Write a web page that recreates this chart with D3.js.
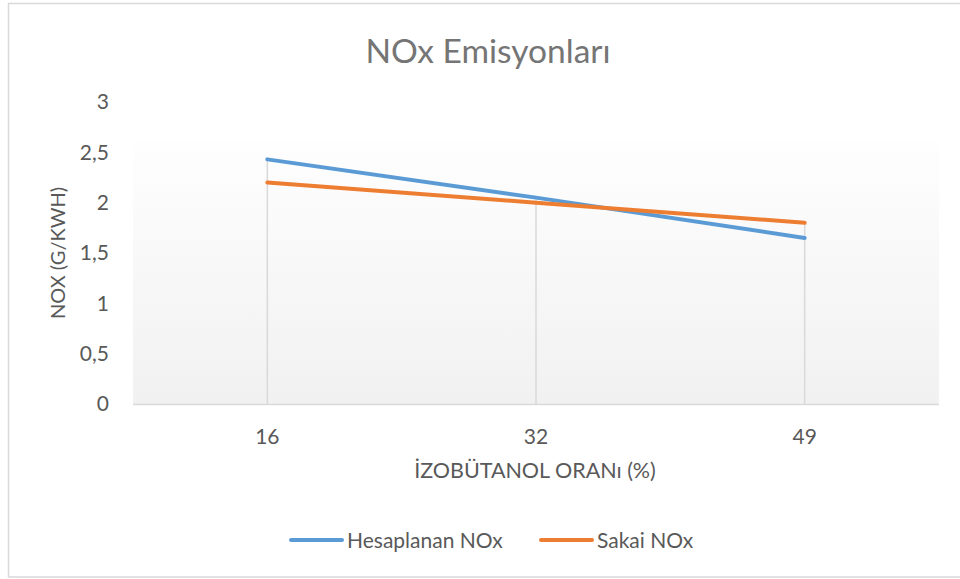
<!DOCTYPE html>
<html>
<head>
<meta charset="utf-8">
<script src="https://cdn.jsdelivr.net/npm/d3@7"></script>
<style>
  html, body { margin: 0; padding: 0; background: #fff; }
  svg { display: block; font-family: Lato, "Open Sans", sans-serif; }
</style>
</head>
<body>
<svg id="chart" width="960" height="579"></svg>
<script>
// Data
const categories = ["16", "32", "49"];
const hesaplanan = [2.43, 2.05, 1.65];
const sakai = [2.2, 2.0, 1.8];
const yTicks = [0, 0.5, 1, 1.5, 2, 2.5, 3];
const seriesNames = ["Hesaplanan NOx", "Sakai NOx"];
const seriesColors = ["#5B9BD5", "#ED7D31"];

const series = [
  { name: seriesNames[0], values: hesaplanan, color: seriesColors[0] },
  { name: seriesNames[1], values: sakai, color: seriesColors[1] }
];

const svg = d3.select("#chart");
const W = 960, H = 579;
const plot = { left: 133, right: 939, top: 102, bottom: 404 };

// Outer chart border
svg.append("rect")
  .attr("x", 8.5).attr("y", 3.5)
  .attr("width", W + 10).attr("height", H - 4 - 1.5)
  .attr("fill", "#fff").attr("stroke", "#d9d9d9").attr("stroke-width", 1.5);

const x = d3.scaleBand().domain(categories).range([plot.left, plot.right]);
const y = d3.scaleLinear().domain([0, 3]).range([plot.bottom, plot.top]);

// Plot area gradient fill
const defs = svg.append("defs");
const grad = defs.append("linearGradient")
  .attr("id", "plotGrad").attr("x1", 0).attr("y1", 0).attr("x2", 0).attr("y2", 1);
grad.append("stop").attr("offset", "0%").attr("stop-color", "#fefefe");
grad.append("stop").attr("offset", "100%").attr("stop-color", "#f1f1f1");

const gradTop = 141;
svg.append("rect")
  .attr("x", plot.left).attr("y", gradTop)
  .attr("width", plot.right - plot.left).attr("height", plot.bottom - gradTop)
  .attr("fill", "url(#plotGrad)");

// Title
svg.append("text")
  .attr("x", 488).attr("y", 63)
  .attr("text-anchor", "middle")
  .attr("font-size", 33.5)
  .attr("fill", "#757575")
  .text("NOx Emisyonları");

// Y axis (labels only)
const yAxis = d3.axisLeft(y).tickValues(yTicks)
  .tickFormat(d => String(d).replace(".", ","))
  .tickSize(0).tickPadding(0);
const gy = svg.append("g").attr("transform", `translate(109,0)`).call(yAxis);
gy.select(".domain").remove();
gy.selectAll("text")
  .attr("font-size", 21).attr("fill", "#595959")
  .attr("font-family", "Lato, sans-serif");

// Drop lines
svg.append("g").selectAll("line")
  .data(categories)
  .join("line")
  .attr("x1", d => x(d) + x.bandwidth() / 2)
  .attr("x2", d => x(d) + x.bandwidth() / 2)
  .attr("y1", (d, i) => y(Math.max(hesaplanan[i], sakai[i])))
  .attr("y2", plot.bottom)
  .attr("stroke", "#d9d9d9").attr("stroke-width", 1.5);

// X axis line and labels
svg.append("line")
  .attr("x1", plot.left).attr("x2", plot.right)
  .attr("y1", plot.bottom + 0.5).attr("y2", plot.bottom + 0.5)
  .attr("stroke", "#d9d9d9").attr("stroke-width", 1.5);

const xAxis = d3.axisBottom(x).tickSize(0).tickPadding(0);
const gx = svg.append("g").attr("transform", `translate(0,${plot.bottom + 25})`).call(xAxis);
gx.select(".domain").remove();
gx.selectAll("text")
  .attr("font-size", 21).attr("fill", "#595959")
  .attr("font-family", "Lato, sans-serif");

// Axis titles
svg.append("text")
  .attr("x", 535).attr("y", 478)
  .attr("text-anchor", "middle")
  .attr("font-size", 21.5).attr("fill", "#595959")
  .text("İZOBÜTANOL ORANı (%)");

svg.append("text")
  .attr("transform", "translate(65,253) rotate(-90)")
  .attr("text-anchor", "middle")
  .attr("font-size", 20).attr("fill", "#595959")
  .text("NOX (G/KWH)");

// Series lines
const line = d3.line()
  .x((d, i) => x(categories[i]) + x.bandwidth() / 2)
  .y(d => y(d));

svg.append("g").selectAll("path")
  .data(series)
  .join("path")
  .attr("d", d => line(d.values))
  .attr("fill", "none")
  .attr("stroke", d => d.color)
  .attr("stroke-width", 4)
  .attr("stroke-linecap", "round")
  .attr("stroke-linejoin", "round");

// Legend
const legendItems = [
  { x: 291, name: seriesNames[0], color: seriesColors[0] },
  { x: 541, name: seriesNames[1], color: seriesColors[1] }
];
const lg = svg.append("g");
legendItems.forEach(it => {
  lg.append("line")
    .attr("x1", it.x).attr("x2", it.x + 51)
    .attr("y1", 540).attr("y2", 540)
    .attr("stroke", it.color).attr("stroke-width", 4)
    .attr("stroke-linecap", "round");
  lg.append("text")
    .attr("x", it.x + 56).attr("y", 548)
    .attr("font-size", 21).attr("fill", "#595959")
    .text(it.name);
});
</script>
</body>
</html>
